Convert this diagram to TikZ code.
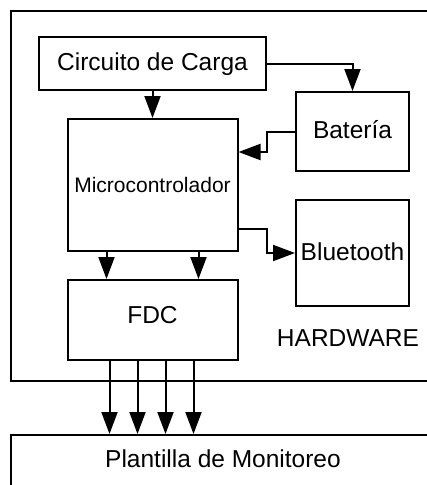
\documentclass[tikz,border=0pt]{standalone}
\usepackage{fontspec}
\setmainfont{Liberation Sans}
\usetikzlibrary{arrows.meta, positioning}

\begin{document}
\begin{tikzpicture}[
  x=1pt, y=1pt,
  block/.style={rectangle, draw, line width=2pt, inner sep=0pt, align=center,
    text height=18pt, text depth=4pt, font=\fontsize{24.5}{28}\selectfont},
  signal/.style={-{Triangle[length=22pt, width=16pt]}, line width=2pt},
  node distance=27pt and 28pt
]
\useasboundingbox (0,0) rectangle (427,-485);
\clip (0,0) rectangle (427,-485);

% Hardware frame
\node[block, anchor=north west, minimum width=440pt, minimum height=370pt] (hw) at (10,-10) {};
\node[font=\fontsize{24.5}{28}\selectfont] (hwlabel) at (348,-338) {HARDWARE};

% Blocks
\node[block, anchor=north west, minimum width=227pt, minimum height=53pt] (carga) at (38,-36) {Circuito de Carga};
\node[block, minimum width=170pt, minimum height=132pt, below=of carga] (micro)
  {\fontsize{21}{24}\selectfont Microcontrolador};
\node[block, minimum width=113pt, minimum height=79pt, below right=0pt and 28pt of carga.south east] (bat) {Batería};
\node[block, minimum width=113pt, minimum height=106pt, below=of bat] (blue) {Bluetooth};
\node[block, minimum width=170pt, minimum height=80pt, text depth=12pt, below=of micro] (fdc) {FDC};

% Monitoring template
\node[block, anchor=north west, minimum width=424pt, text height=32pt, text depth=30pt] (plant) at (10,-434)
  {Plantilla de Monitoreo};

% Signals
\draw[signal] (carga.east) -| (bat.north);
\draw[signal] (carga) -- (micro);
\draw[signal] (bat.west) -- ++(-28,0) |- ([yshift=-34pt]micro.north east);
\draw[signal] ([yshift=23pt]micro.south east) -- ++(28,0) |- (blue.west);
\draw[signal] ([xshift=40pt]micro.south west) -- ([xshift=40pt]fdc.north west);
\draw[signal] ([xshift=-40pt]micro.south east) -- ([xshift=-40pt]fdc.north east);
\foreach \dx in {43,71,99,127}
  \draw[signal] ([xshift=\dx pt]fdc.south west) -- ([xshift=\dx pt]fdc.south west |- plant.north);
\end{tikzpicture}
\end{document}
